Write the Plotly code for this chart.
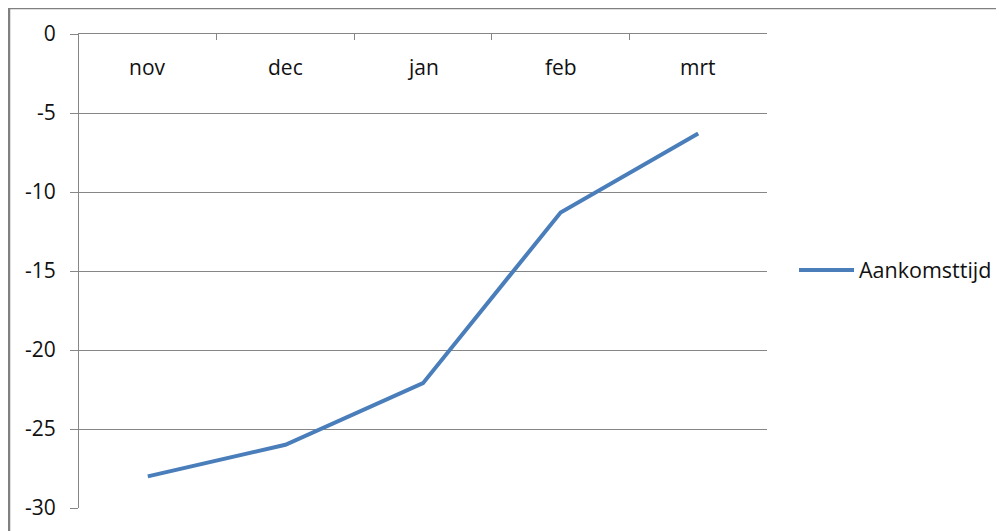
import plotly.graph_objects as go

months = ["nov", "dec", "jan", "feb", "mrt"]
aankomsttijd = [-28.0, -26.0, -22.1, -11.3, -6.3]
y_ticks = [0, -5, -10, -15, -20, -25, -30]

# page body has an 8px margin, so figure coords = screen coords - 8
OFF = 8
W, H = 1004, 531
L, R, T, B = 79 - OFF, 767 - OFF, 34 - OFF, 508 - OFF
FONT = "Open Sans, Liberation Sans, sans-serif"
TXT = "#111111"

fig = go.Figure()
fig.add_trace(go.Scatter(
    x=months, y=aankomsttijd, mode="lines", name="Aankomsttijd",
    line=dict(color="#4A7EBB", width=4),
))

pw, ph = R - L, B - T
def px(x):
    return (x - OFF - L) / pw
def py(y):
    return (B - (y - OFF)) / ph

shapes = [
    dict(type="line", xref="paper", yref="paper", x0=px(9), x1=px(9), y0=py(8), y1=py(560),
         line=dict(color="#808080", width=2.5)),
    dict(type="line", xref="paper", yref="paper", x0=px(9), x1=px(1030), y0=py(8), y1=py(8),
         line=dict(color="#808080", width=2.5)),
]

annotations = [
    dict(x=m, y=py(67), xref="x", yref="paper", text=m, showarrow=False,
         xanchor="center", yanchor="middle", font=dict(family=FONT, size=21, color=TXT))
    for m in months
]

fig.update_layout(
    width=W, height=H,
    margin=dict(l=L, r=W - R, t=T, b=H - B, autoexpand=False),
    paper_bgcolor="white", plot_bgcolor="white",
    font=dict(family=FONT, size=21, color=TXT),
    showlegend=True,
    legend=dict(x=px(794), y=py(270), xanchor="left", yanchor="middle",
                font=dict(size=21.5), bgcolor="rgba(0,0,0,0)", itemwidth=55),
    shapes=shapes,
    annotations=annotations,
    xaxis=dict(
        type="category", side="top", range=[-0.5, 4.5], automargin=False,
        showline=True, linecolor="#868686", linewidth=1,
        ticks="inside", ticklen=6, tickcolor="#868686", tickson="boundaries",
        showticklabels=False,
        showgrid=False, zeroline=False,
    ),
    yaxis=dict(
        range=[-30, 0], tickvals=y_ticks, ticktext=[str(v) for v in y_ticks],
        automargin=False,
        showline=True, linecolor="#868686", linewidth=1,
        ticks="outside", ticklen=8, tickcolor="#868686",
        showgrid=True, gridcolor="#868686", gridwidth=1,
        zeroline=False, ticklabelstandoff=10,
    ),
)
fig.write_html("out.html")
